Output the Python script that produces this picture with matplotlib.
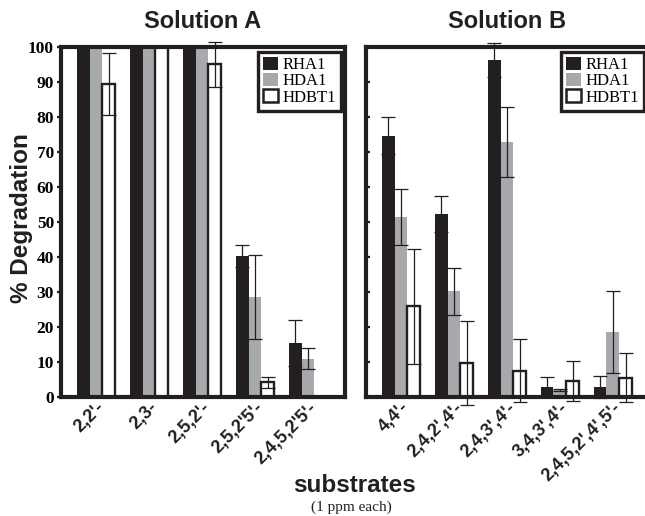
import matplotlib
matplotlib.use("Agg")
import matplotlib.pyplot as plt
import numpy as np
from matplotlib.patches import Patch
from matplotlib.transforms import blended_transform_factory, ScaledTranslation

# ---------------- data ----------------
subs_A = ["2,2'-", "2,3-", "2,5,2'-", "2,5,2'5'-", "2,4,5,2'5'-"]
rha1_A = [100, 100, 100, 40.2, 15.5]
rha1_A_err = [0, 0, 0, 3.1, 6.6]
hda1_A = [100, 100, 100, 28.5, 11.0]
hda1_A_err = [0, 0, 0, 12.0, 3.0]
hdbt1_A = [89.5, 100, 95.0, 4.2, 0]
hdbt1_A_err = [8.8, 0, 6.5, 1.6, 0]

subs_B = ["4,4'-", "2,4,2',4'-", "2,4,3',4'-", "3,4,3',4'-", "2,4,5,2',4',5'-"]
rha1_B = [74.6, 52.3, 96.3, 2.8, 2.8]
rha1_B_err = [5.3, 5.1, 4.9, 2.8, 3.2]
hda1_B = [51.4, 30.2, 72.9, 2.0, 18.6]
hda1_B_err = [8.0, 6.8, 10.0, 0.4, 11.8]
hdbt1_B = [25.9, 9.8, 7.5, 4.5, 5.5]
hdbt1_B_err = [16.5, 12.0, 9.0, 5.7, 7.0]

series = ["RHA1", "HDA1", "HDBT1"]
yticks = list(range(0, 101, 10))

# ---------------- style ----------------
BLACK = "#231f20"
GRAY = "#a7a9ac"
SANS = "Liberation Sans"
SERIF = "Liberation Serif"

W, H = 645, 516
fig = plt.figure(figsize=(W / 100, H / 100), dpi=100)

def fx(px):
    return px / W

def fy(py):
    return 1 - py / H

axA = fig.add_axes([fx(61), fy(397), fx(345) - fx(61), fy(47) - fy(397)])
axB = fig.add_axes([fx(366), fy(397), fx(652) - fx(366), fy(47) - fy(397)])

bw = 0.24

def draw(ax, subs, r, re, h, he, d, de, xlim, tickdir, showlabels):
    x = np.arange(len(subs))
    ax.bar(x - bw, r, bw, color=BLACK, linewidth=0, zorder=2)
    ax.bar(x, h, bw, color=GRAY, linewidth=0, zorder=2)
    ax.bar(x + bw, d, bw, facecolor="white", edgecolor=BLACK, linewidth=1.7, zorder=3)
    for off, vals, errs in [(-bw, r, re), (0, h, he), (bw, d, de)]:
        for xi, v, e in zip(x, vals, errs):
            if e > 0:
                ax.errorbar(xi + off, v, yerr=e, fmt="none", ecolor=BLACK,
                            elinewidth=0.9, capsize=4.8, capthick=0.9,
                            zorder=4, clip_on=False)
    ax.set_xlim(*xlim)
    ax.set_ylim(0, 100)
    ax.set_yticks(yticks)
    ax.set_xticks([])
    for s in ax.spines.values():
        s.set_linewidth(3.0)
        s.set_color(BLACK)
        s.set_zorder(5)
    ax.tick_params(axis="y", direction=tickdir, length=3, width=1.6, color=BLACK, pad=2)
    if showlabels:
        ax.set_yticklabels([str(t) for t in yticks], fontfamily=SERIF,
                           fontweight="bold", fontsize=12.5)
    else:
        ax.set_yticklabels([])
    trans = blended_transform_factory(ax.transData, ax.transAxes) + \
        ScaledTranslation(6 / 100, -8 / 100, fig.dpi_scale_trans)
    for xi, lab in zip(x, subs):
        ax.text(xi, 0, lab, transform=trans, rotation=45, ha="right", va="center",
                rotation_mode="anchor", fontfamily=SANS, fontweight="bold",
                fontsize=13, color=BLACK)

draw(axA, subs_A, rha1_A, rha1_A_err, hda1_A, hda1_A_err, hdbt1_A, hdbt1_A_err,
     (-0.66, 4.70), "out", True)
draw(axB, subs_B, rha1_B, rha1_B_err, hda1_B, hda1_B_err, hdbt1_B, hdbt1_B_err,
     (-0.66, 4.74), "in", False)

handles = [Patch(facecolor=BLACK, edgecolor=BLACK, linewidth=0),
           Patch(facecolor=GRAY, edgecolor=GRAY, linewidth=0),
           Patch(facecolor="white", edgecolor=BLACK, linewidth=1.8)]

for ax, rx in [(axA, 341), (axB, 644)]:
    leg = ax.legend(handles, series, loc="upper right",
                    bbox_to_anchor=(fx(rx), fy(52)), bbox_transform=fig.transFigure,
                    borderaxespad=0, prop={"family": SERIF, "size": 12},
                    frameon=True, fancybox=False, borderpad=0.3, labelspacing=0.0,
                    handlelength=0.85, handleheight=0.8, handletextpad=0.3)
    fr = leg.get_frame()
    fr.set_edgecolor(BLACK)
    fr.set_linewidth(2.4)
    fr.set_alpha(1)
    leg.set_zorder(6)

fig.text(fx(203), fy(22), "Solution A", ha="center", va="center",
         fontfamily=SANS, fontweight="bold", fontsize=17, color=BLACK)
fig.text(fx(507), fy(22), "Solution B", ha="center", va="center",
         fontfamily=SANS, fontweight="bold", fontsize=17, color=BLACK)
fig.text(fx(22), fy(218), "% Degradation", ha="center", va="center", rotation=90,
         fontfamily=SANS, fontweight="bold", fontsize=17.5, color=BLACK)
fig.text(fx(355), fy(485), "substrates", ha="center", va="center",
         fontfamily=SANS, fontweight="bold", fontsize=17.5, color=BLACK)
fig.text(fx(351), fy(507), "(1 ppm each)", ha="center", va="center",
         fontfamily=SERIF, fontsize=11, color=BLACK)

fig.savefig("out.png", dpi=100)
